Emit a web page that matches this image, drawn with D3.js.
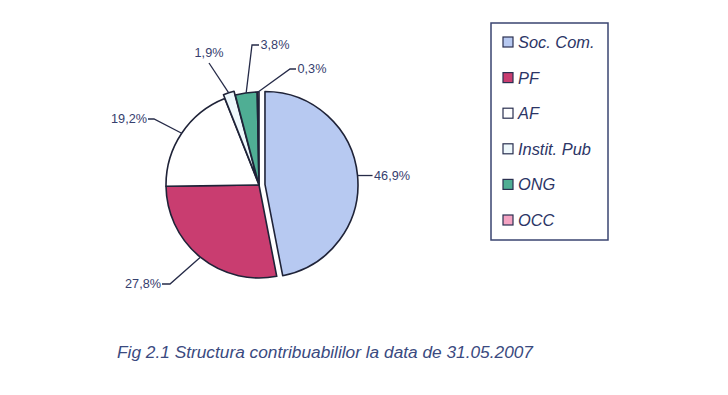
<!DOCTYPE html>
<html>
<head>
<meta charset="utf-8">
<script src="https://cdn.jsdelivr.net/npm/d3@7"></script>
<style>
  body { margin: 0; background: #fff; }
  svg { display: block; font-family: Arial, "Liberation Sans", sans-serif; }
</style>
</head>
<body>
<svg id="chart" width="728" height="395"></svg>
<script>
// data
const categories = ["Soc. Com.", "PF", "AF", "Instit. Pub", "ONG", "OCC"];
const shares = [46.9, 27.8, 19.2, 1.9, 3.8, 0.3];
const labels = ["46,9%", "27,8%", "19,2%", "1,9%", "3,8%", "0,3%"];
const colors = ["#b7c9f1", "#c93d70", "#ffffff", "#eef8fc", "#4fae94", "#f4a3c2"];

// layout for each slice: explode distance, label elbow (relative to centre), label side
const explode = [6, 0, 0, 4, 0, 0];
const labelLayout = [
  {ex: null, ey: null, tail: 15, side: "right"},
  {ex: -89, ey: 99, tail: -8, side: "left"},
  {ex: -105, ey: -66, tail: -6, side: "left"},
  {ex: -50, ey: -122, tail: 0, side: "top"},
  {ex: -7, ey: -140, tail: 7, side: "right"},
  {ex: 31, ey: -116, tail: 6, side: "right"}
];

const svg = d3.select("#chart");
const cx = 259, cy = 185, r = 93;
const ink = "#1f2338";
const textCol = "#36406e";

const pie = d3.pie().sort(null).value(d => d)(shares);
const arc = d3.arc().innerRadius(0).outerRadius(r);

const g = svg.append("g").attr("transform", `translate(${cx},${cy})`);

function offset(d, i) {
  const a = (d.startAngle + d.endAngle) / 2;
  return [Math.sin(a) * explode[i], -Math.cos(a) * explode[i]];
}

g.selectAll("path.slice")
  .data(pie)
  .join("path")
  .attr("class", "slice")
  .attr("d", arc)
  .attr("transform", (d, i) => { const o = offset(d, i); return `translate(${o[0]},${o[1]})`; })
  .attr("fill", (d, i) => colors[i])
  .attr("stroke", ink)
  .attr("stroke-width", 1.6)
  .attr("stroke-linejoin", "round");

// labels with leader lines
pie.forEach((d, i) => {
  const a = (d.startAngle + d.endAngle) / 2;
  const o = offset(d, i);
  const x0 = Math.sin(a) * r + o[0];
  const y0 = -Math.cos(a) * r + o[1];
  const L = labelLayout[i];
  const ex = L.ex === null ? x0 : L.ex;
  const ey = L.ey === null ? y0 : L.ey;
  const pts = [[x0, y0], [ex, ey], [ex + L.tail, ey]];
  g.append("path")
    .attr("d", d3.line()(pts))
    .attr("fill", "none")
    .attr("stroke", "#262b48")
    .attr("stroke-width", 1.3);

  const t = g.append("text")
    .text(labels[i])
    .attr("font-size", 12.7)
    .attr("fill", textCol);
  if (L.side === "right") {
    t.attr("x", ex + L.tail + 1.5).attr("y", ey).attr("dy", "0.35em").attr("text-anchor", "start");
  } else if (L.side === "left") {
    t.attr("x", ex + L.tail - 1).attr("y", ey).attr("dy", "0.35em").attr("text-anchor", "end");
  } else {
    t.attr("x", ex).attr("y", ey - 6).attr("text-anchor", "middle");
  }
});

// legend
const legend = svg.append("g");
legend.append("rect")
  .attr("x", 491).attr("y", 23)
  .attr("width", 117).attr("height", 217)
  .attr("fill", "#fff")
  .attr("stroke", "#3a4470")
  .attr("stroke-width", 1.5);

const rowY = d3.scalePoint().domain(categories).range([42, 220]);

const items = legend.selectAll("g.item")
  .data(categories)
  .join("g")
  .attr("class", "item")
  .attr("transform", d => `translate(503,${rowY(d)})`);

items.append("rect")
  .attr("x", 0).attr("y", -5)
  .attr("width", 10).attr("height", 10)
  .attr("fill", (d, i) => colors[i])
  .attr("stroke", "#2a3050")
  .attr("stroke-width", 1.2);

items.append("text")
  .attr("x", 15)
  .attr("dy", "0.36em")
  .attr("font-size", 16.4)
  .attr("font-style", "italic")
  .attr("fill", "#2c3566")
  .text(d => d);

// caption
svg.append("text")
  .attr("x", 117).attr("y", 358)
  .attr("font-size", 17.3)
  .attr("font-style", "italic")
  .attr("fill", "#3a4a80")
  .text("Fig 2.1 Structura contribuabililor la data de 31.05.2007");
</script>
</body>
</html>
